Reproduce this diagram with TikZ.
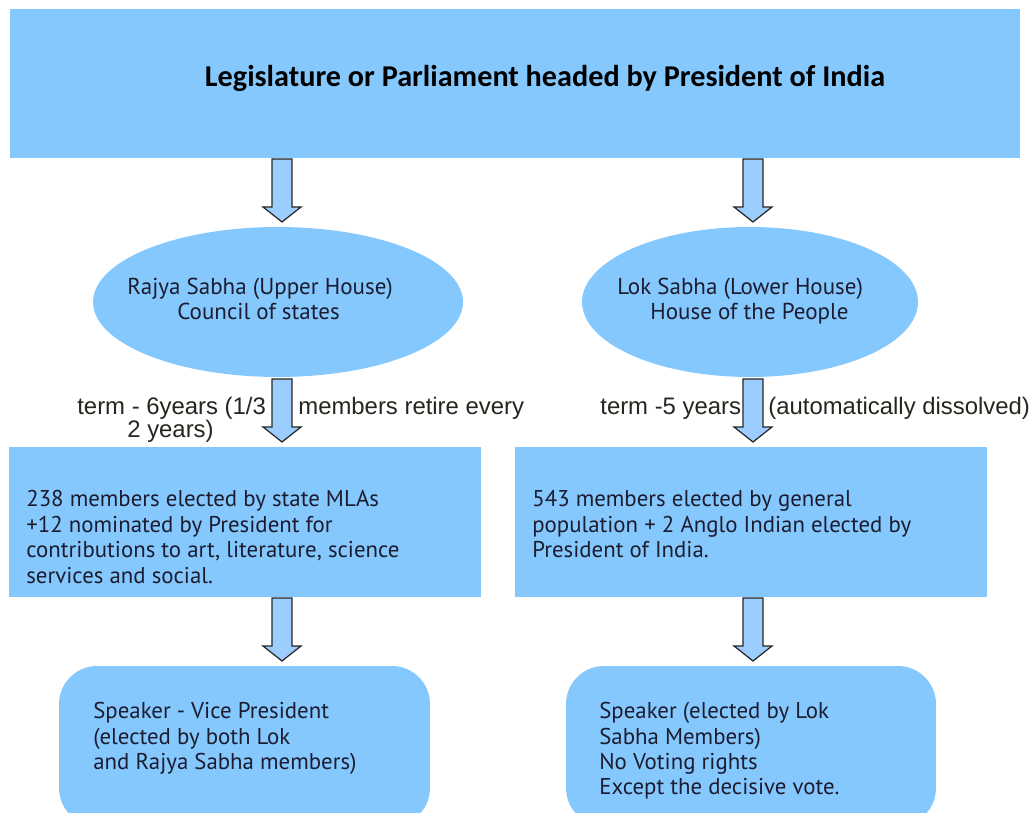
\documentclass[tikz,border=0pt]{standalone}
\usepackage{fontspec}
\setmainfont{PT Sans}
\newfontfamily\titlefont{Carlito}
\newfontfamily\notefont{Liberation Sans}
\usetikzlibrary{shapes.geometric,calc}
\definecolor{boxblue}{RGB}{133,200,254}
\definecolor{arrowblue}{RGB}{156,205,255}
\definecolor{ink}{RGB}{28,28,48}
\definecolor{noteink}{RGB}{40,36,30}
\begin{document}
\begin{tikzpicture}[x=0.02cm,y=-0.02cm,
  panel/.style={fill=boxblue,draw=none,inner sep=0pt,outer sep=0pt},
  roundpanel/.style={panel,rounded corners=0.76cm},
  house/.style={ellipse,fill=boxblue,draw=none,inner sep=0pt,outer sep=0pt},
  bodytext/.style={font=\fontsize{13}{16}\selectfont,text=ink,inner sep=0pt,anchor=base west},
  housetext/.style={font=\fontsize{13.1}{16}\selectfont,text=ink,inner sep=0pt,anchor=base west},
  notetext/.style={font=\notefont\fontsize{13.6}{16}\selectfont,text=noteink,inner sep=0pt,anchor=base west},
  blockarrow/.pic={
    \draw[fill=arrowblue,draw=black!85,line width=0.7pt,line join=miter]
      (-10,0) -- (10,0) -- (10,48) -- (19,48) -- (0,63) -- (-19,48) -- (-10,48) -- cycle;
  }]
\useasboundingbox (0,0) rectangle (1034,813);
\clip (0,0) rectangle (1034,813);

% column positions of the block arrows
\coordinate (colL) at (282,0);
\coordinate (colR) at (753,0);

% parliament header
\node[panel,minimum width=20.2cm,minimum height=2.98cm] (top) at (515,83.5) {};
\node[font=\titlefont\bfseries\fontsize{17.2}{20}\selectfont,text=black,inner sep=0pt,anchor=base]
  (title) at (545,87) {Legislature or Parliament headed by President of India};

% the two houses
\node[house,minimum width=7.4cm,minimum height=3.0cm] (rajya) at (278,302) {};
\node[house,minimum width=6.72cm,minimum height=3.0cm] (lok) at (750,302) {};
\node[housetext] (rajyaA) at (127,295) {Rajya Sabha (Upper House)};
\node[housetext] (rajyaB) at (177,320) {Council of states};
\node[housetext] (lokA) at (617,295) {Lok Sabha (Lower House)};
\node[housetext] (lokB) at (650,320) {House of the People};

% membership
\node[panel,minimum width=9.44cm,minimum height=3.0cm] (rmem) at (245,522) {};
\node[panel,minimum width=9.44cm,minimum height=3.0cm] (lmem) at (751,522) {};
\node[bodytext] (rm1) at (26,507) {238 members elected by state MLAs};
\node[bodytext] (rm2) at (26,533) {+12 nominated by President for};
\node[bodytext] (rm3) at (26,558) {contributions to art, literature, science};
\node[bodytext] (rm4) at (26,583) {services and social.};
\node[bodytext] (lm1) at (532,507) {543 members elected by general};
\node[bodytext] (lm2) at (532,533) {population + 2 Anglo Indian elected by};
\node[bodytext] (lm3) at (532,558) {President of India.};

% presiding officers
\node[roundpanel,minimum width=7.42cm,minimum height=3.2cm] (rspk) at (244.5,746) {};
\node[roundpanel,minimum width=7.4cm,minimum height=3.2cm] (lspk) at (751,746) {};
\node[bodytext] (rs1) at (93,718) {Speaker - Vice President};
\node[bodytext] (rs2) at (93,744) {(elected by both Lok};
\node[bodytext] (rs3) at (93,769) {and Rajya Sabha members)};
\node[bodytext] (ls1) at (599,718) {Speaker (elected by Lok};
\node[bodytext] (ls2) at (599,744) {Sabha Members)};
\node[bodytext] (ls3) at (599,769) {No Voting rights};
\node[bodytext] (ls4) at (599,794) {Except the decisive vote.};

% block arrows
\pic at ($(top.south -| colL)+(0,1)$) {blockarrow};
\pic at ($(top.south -| colR)+(0,1)$) {blockarrow};
\pic at ($(rajya.south -| colL)+(0,2)$) {blockarrow};
\pic at ($(lok.south -| colR)+(0,2)$) {blockarrow};
\pic at ($(rmem.south -| colL)+(0,1)$) {blockarrow};
\pic at ($(lmem.south -| colR)+(0,1)$) {blockarrow};

% terms of the houses
\node[notetext] (termL) at (77,415) {term - 6years (1/3};
\node[notetext] (termL2) at (298,415) {members retire every};
\node[notetext] (termL3) at (127,438) {2 years)};
\node[notetext] (termR) at (600,415) {term -5 years};
\node[notetext] (termR2) at (768,415) {(automatically dissolved)};
\end{tikzpicture}
\end{document}
